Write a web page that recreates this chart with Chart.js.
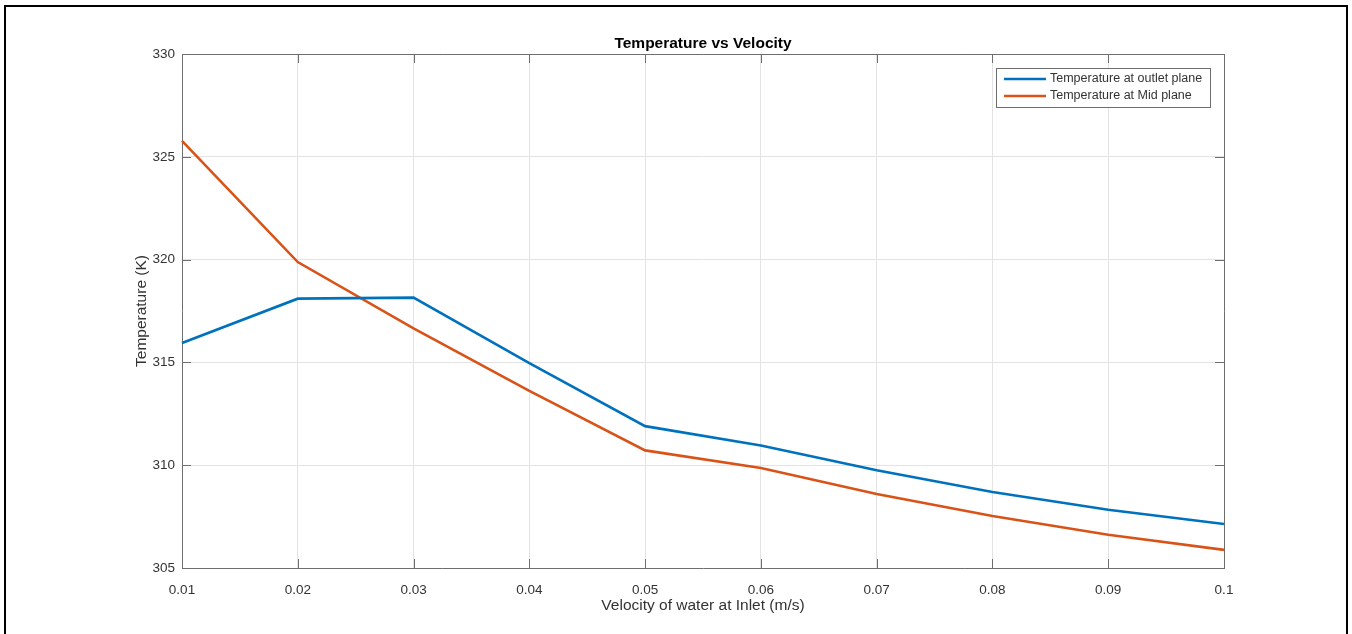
<!DOCTYPE html>
<html>
<head>
<meta charset="utf-8">
<script src="https://cdn.jsdelivr.net/npm/chart.js@4.4.0/dist/chart.umd.min.js"></script>
<style>
  html, body { margin: 0; padding: 0; background: #fff; overflow: hidden; }
  #wrap { position: relative; width: 1352px; height: 634px; }
  #frame {
    position: absolute; left: 4px; top: 5px; width: 1344px; height: 700px;
    border: 2px solid #000; box-sizing: border-box; pointer-events: none;
  }
</style>
</head>
<body>
<div id="wrap">
  <canvas id="myChart" width="1352" height="634"></canvas>
  <div id="frame"></div>
</div>
<script>
// velocity of water at inlet (m/s)
const velocities = ['0.01', '0.02', '0.03', '0.04', '0.05', '0.06', '0.07', '0.08', '0.09', '0.1'];
// temperature (K)
const outletTemps = [315.94, 318.1, 318.15, 314.97, 311.9, 310.96, 309.75, 308.7, 307.83, 307.14];
const midTemps = [325.77, 319.88, 316.65, 313.62, 310.72, 309.86, 308.6, 307.53, 306.62, 305.88];
const seriesNames = ['Temperature at outlet plane', 'Temperature at Mid plane'];
const yTicks = [305, 310, 315, 320, 325, 330];

const axisColor = '#6e6e6e';
const textColor = '#333333';
const gridColor = '#e3e3e3';
const blue = '#0072BD';
const orange = '#D95319';
const fontFamily = '"Liberation Sans", Arial, sans-serif';

// matlab-ish box: top/right edges, inward ticks, title, legend inside the axes
const matlabBox = {
  id: 'matlabBox',
  afterDatasetsDraw(chart) {
    const { ctx, chartArea: a, scales } = chart;
    const tl = 9;
    ctx.save();
    ctx.strokeStyle = axisColor;
    ctx.lineWidth = 1;
    ctx.beginPath();
    ctx.moveTo(a.left, a.top + 0.5);
    ctx.lineTo(a.right + 0.5, a.top + 0.5);
    ctx.lineTo(a.right + 0.5, a.bottom);
    scales.x.ticks.forEach((t, i) => {
      const x = Math.round(scales.x.getPixelForTick(i)) + 0.5;
      ctx.moveTo(x, a.bottom);
      ctx.lineTo(x, a.bottom - tl);
      ctx.moveTo(x, a.top);
      ctx.lineTo(x, a.top + tl);
    });
    scales.y.ticks.forEach((t) => {
      const y = Math.round(scales.y.getPixelForValue(t.value)) + 0.5;
      ctx.moveTo(a.left, y);
      ctx.lineTo(a.left + tl, y);
      ctx.moveTo(a.right, y);
      ctx.lineTo(a.right - tl, y);
    });
    ctx.stroke();

    // title
    ctx.fillStyle = '#000';
    ctx.font = 'bold 15.5px ' + fontFamily;
    ctx.textAlign = 'center';
    ctx.textBaseline = 'middle';
    ctx.fillText('Temperature vs Velocity', (a.left + a.right) / 2, 44);

    // legend
    const lx = 996, ly = 68, lw = 214, lh = 39;
    ctx.fillStyle = '#fff';
    ctx.fillRect(lx, ly, lw, lh);
    ctx.strokeStyle = axisColor;
    ctx.strokeRect(lx + 0.5, ly + 0.5, lw, lh);
    ctx.font = '12.5px ' + fontFamily;
    ctx.textAlign = 'left';
    chart.data.datasets.forEach((ds, i) => {
      const yy = ly + 11 + i * 17;
      ctx.strokeStyle = ds.borderColor;
      ctx.lineWidth = 2.5;
      ctx.beginPath();
      ctx.moveTo(lx + 8, yy);
      ctx.lineTo(lx + 50, yy);
      ctx.stroke();
      ctx.fillStyle = textColor;
      ctx.fillText(ds.label, lx + 54, yy);
    });
    ctx.restore();
  }
};

new Chart(document.getElementById('myChart'), {
  type: 'line',
  data: {
    labels: velocities,
    datasets: [
      {
        label: seriesNames[0],
        data: outletTemps,
        borderColor: blue,
        backgroundColor: blue,
        borderWidth: 2.6,
        pointRadius: 0,
        tension: 0,
      },
      {
        label: seriesNames[1],
        data: midTemps,
        borderColor: orange,
        backgroundColor: orange,
        borderWidth: 2.6,
        pointRadius: 0,
        tension: 0,
      },
    ],
  },
  options: {
    responsive: false,
    animation: false,
    layout: { padding: { left: 132, right: 128, top: 54, bottom: 19 } },
    plugins: {
      legend: { display: false },
      title: { display: false },
      tooltip: { enabled: false },
    },
    scales: {
      x: {
        type: 'category',
        offset: false,
        afterFit: (s) => { s.height = 47; },
        grid: { color: gridColor, drawTicks: false },
        border: { display: true, color: axisColor },
        ticks: {
          color: textColor,
          padding: 14,
          maxRotation: 0,
          font: { family: fontFamily, size: 13.5 },
        },
        title: {
          display: true,
          text: 'Velocity of water at Inlet (m/s)',
          color: textColor,
          padding: 0,
          font: { family: fontFamily, size: 15.5 },
        },
      },
      y: {
        min: 305,
        max: 330,
        afterFit: (s) => { s.width = 50; },
        afterBuildTicks: (s) => { s.ticks = yTicks.map((v) => ({ value: v })); },
        grid: { color: gridColor, drawTicks: false },
        border: { display: true, color: axisColor },
        ticks: {
          color: textColor,
          padding: 7,
          font: { family: fontFamily, size: 13.5 },
        },
        title: {
          display: true,
          text: 'Temperature (K)',
          color: textColor,
          padding: 0,
          font: { family: fontFamily, size: 15.5 },
        },
      },
    },
  },
  plugins: [matlabBox],
});
</script>
</body>
</html>
